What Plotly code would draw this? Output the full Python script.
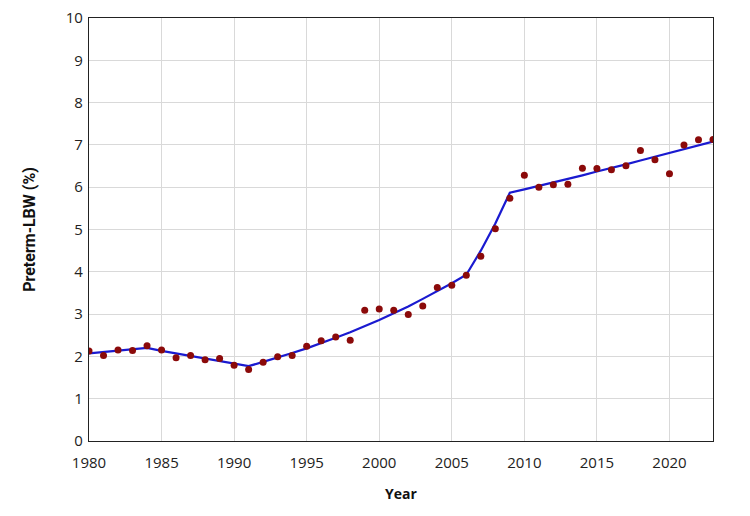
import plotly.graph_objects as go

years = list(range(1980, 2024))
observed = [2.13, 2.02, 2.15, 2.14, 2.25, 2.15, 1.97, 2.02, 1.92, 1.95,
            1.79, 1.69, 1.86, 1.99, 2.02, 2.24, 2.37, 2.46, 2.38, 3.09,
            3.12, 3.09, 2.99, 3.19, 3.63, 3.68, 3.92, 4.37, 5.02, 5.74,
            6.28, 6.00, 6.06, 6.07, 6.45, 6.44, 6.41, 6.51, 6.87, 6.65,
            6.32, 7.00, 7.12, 7.13]
fitted = [2.07, 2.10, 2.13, 2.17, 2.20, 2.13, 2.07, 2.00, 1.94, 1.88,
          1.82, 1.77, 1.87, 1.97, 2.08, 2.19, 2.31, 2.44, 2.57, 2.71,
          2.86, 3.02, 3.18, 3.36, 3.54, 3.73, 3.93, 4.50, 5.14, 5.87,
          5.95, 6.03, 6.11, 6.20, 6.28, 6.37, 6.45, 6.54, 6.63, 6.72,
          6.81, 6.90, 6.99, 7.08]

x_ticks = [1980, 1985, 1990, 1995, 2000, 2005, 2010, 2015, 2020]
y_ticks = list(range(0, 11))

fig = go.Figure()
fig.add_trace(go.Scatter(x=years, y=fitted, mode="lines",
                         line=dict(color="#1a1ad0", width=2.2),
                         showlegend=False))
fig.add_trace(go.Scatter(x=years, y=observed, mode="markers",
                         marker=dict(color="#8b0a0a", size=7),
                         showlegend=False))

tick_font = dict(family="Open Sans, sans-serif", size=15, color="#222")
fig.update_layout(
    width=750, height=516,
    margin=dict(l=89, r=37, t=18, b=75),
    paper_bgcolor="white", plot_bgcolor="white",
    xaxis=dict(range=[1980, 2023], tickvals=x_ticks, showgrid=True,
               gridcolor="#d9d9d9", gridwidth=1, showline=True,
               linecolor="#222", linewidth=1.2, mirror=True, zeroline=False,
               ticks="", tickfont=tick_font, ticklabelstandoff=8,
               automargin=False,
               title=dict(text="<b>Year</b>", standoff=18,
                          font=dict(family="Open Sans, sans-serif", size=14, color="#111"))),
    yaxis=dict(range=[0, 10], tickvals=y_ticks, showgrid=True,
               gridcolor="#d9d9d9", gridwidth=1, showline=True,
               linecolor="#222", linewidth=1.2, mirror=True, zeroline=False,
               ticks="", tickfont=tick_font, ticklabelstandoff=2,
               automargin=False,
               title=dict(text="<b>Preterm-LBW (%)</b>", standoff=26,
                          font=dict(family="Liberation Sans Narrow, Roboto, sans-serif",
                                    size=16, color="#111"))),
)

fig.write_html("out.html")
